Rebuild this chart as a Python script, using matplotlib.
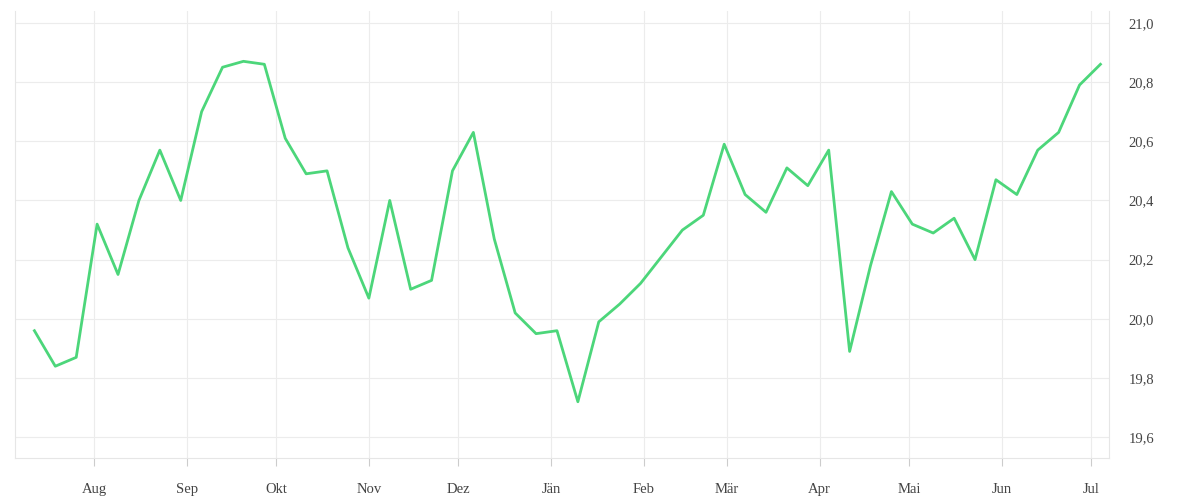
import matplotlib
matplotlib.use("Agg")
import matplotlib.pyplot as plt
import pandas as pd

dates = pd.date_range("2022-07-12", periods=52, freq="7D")
values = [19.96,19.84,19.87,20.32,20.15,20.40,20.57,20.40,20.70,20.85,20.87,20.86,
          20.61,20.49,20.50,20.24,20.07,20.40,20.10,20.13,20.50,20.63,20.27,20.02,
          19.95,19.96,19.72,19.99,20.05,20.12,20.21,20.30,20.35,20.59,20.42,20.36,
          20.51,20.45,20.57,19.89,20.18,20.43,20.32,20.29,20.34,20.20,20.47,20.42,
          20.57,20.63,20.79,20.86]
month_labels = ["Aug","Sep","Okt","Nov","Dez","Jän","Feb","Mär","Apr","Mai","Jun","Jul"]
yticks = [19.6,19.8,20.0,20.2,20.4,20.6,20.8,21.0]

plt.rcParams['font.family'] = ['Liberation Serif', 'DejaVu Serif']
fig = plt.figure(figsize=(12,5), dpi=100)
ax = fig.add_axes([0.0125, 0.084, 0.912, 0.894])
ax.plot(dates, values, color="#4cd67a", lw=2.0)
ax.set_ylim(19.53, 21.04)
ax.set_xlim(dates[0]-pd.Timedelta(days=6.5), dates[-1]+pd.Timedelta(days=3))
month_ticks = pd.date_range("2022-08-01", periods=12, freq="MS")
ax.set_xticks(month_ticks)
ax.set_xticklabels(month_labels)
ax.yaxis.tick_right()
ax.set_yticks(yticks)
ax.set_yticklabels([f"{v:.1f}".replace(".", ",") for v in yticks])
ax.grid(True, color="#ececec", lw=0.8)
ax.spines["top"].set_visible(False)
for s in ["left","right","bottom"]:
    ax.spines[s].set_color("#e6e6e6")
ax.tick_params(axis="both", colors="#444444", labelsize=10.5)
ax.tick_params(axis="x", color="#cccccc", length=6, pad=12)
ax.tick_params(axis="y", length=0, pad=14)
fig.savefig("out.png")
